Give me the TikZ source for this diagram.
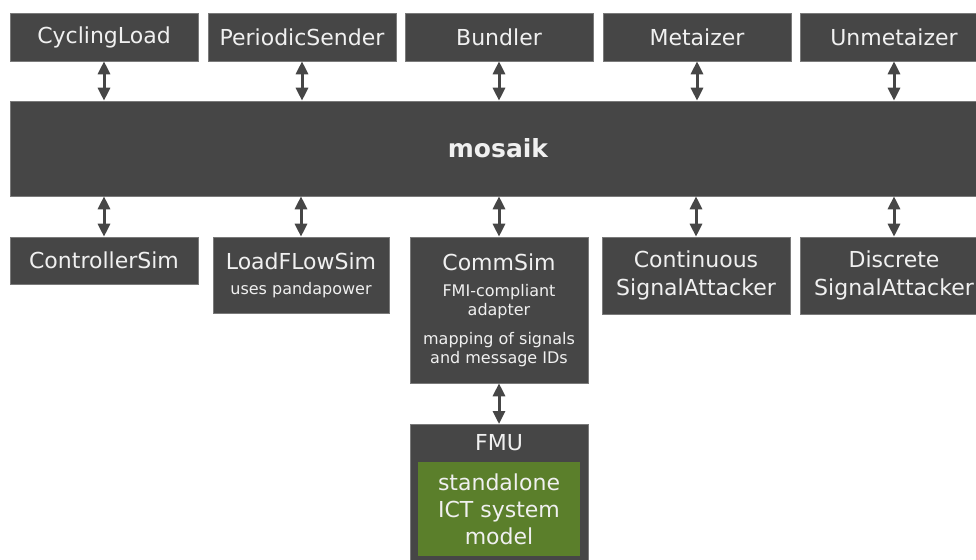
\documentclass[tikz,border=0pt]{standalone}
\usepackage{fontspec}
\setmainfont{DejaVu Sans}
\usetikzlibrary{arrows.meta}
\definecolor{boxgray}{HTML}{464646}
\definecolor{boxedge}{HTML}{7A7A7A}
\definecolor{boxtext}{HTML}{F0F0F0}
\definecolor{ictgreen}{HTML}{5B7F2B}
\tikzset{
  box/.style={fill=boxgray, draw=boxedge, line width=0.6pt, text=boxtext,
    font=\fontsize{22}{28}\selectfont, align=center, inner sep=0pt},
  biarrow/.style={draw=boxgray, line width=3pt,
    {Triangle[width=12pt,length=13pt]}-{Triangle[width=12pt,length=13pt]}}
}
\newcommand{\smalltxt}{\fontsize{16}{19}\selectfont}
\begin{document}
\begin{tikzpicture}[x=1pt,y=-1pt]
\clip (0,0) rectangle (976,559);
\fill[white] (0,0) rectangle (976,559);
% top row
\node[box, minimum width=188pt, minimum height=48pt] (cyc) at (104,37) {CyclingLoad};
\node[box, minimum width=188pt, minimum height=48pt] (per) at (302,37) {PeriodicSender};
\node[box, minimum width=188pt, minimum height=48pt] (bun) at (499,37) {Bundler};
\node[box, minimum width=188pt, minimum height=48pt] (met) at (697,37) {Metaizer};
\node[box, minimum width=188pt, minimum height=48pt] (unm) at (894,37) {Unmetaizer};
% mosaik bar
\node[box, minimum width=990pt, minimum height=95pt, font=\fontsize{25}{30}\selectfont\bfseries, anchor=west] (mos) at (10,148.5) {};
\node[text=boxtext, font=\fontsize{25}{30}\selectfont\bfseries, inner sep=0pt] (moslabel) at (498,148.5) {mosaik};
% bottom row
\node[box, minimum width=188pt, minimum height=47pt] (ctl) at (104,260.5) {ControllerSim};
\node[box, minimum width=176pt, minimum height=76pt] (lfs) at (301,275) {LoadFLowSim\\[-3pt]{\smalltxt uses pandapower}};
\node[box, minimum width=178pt, minimum height=146pt] (com) at (499,310) {CommSim\\[-2pt]{\smalltxt FMI-compliant}\\[-9pt]{\smalltxt adapter}\\[1pt]{\smalltxt mapping of signals}\\[-9pt]{\smalltxt and message IDs}};
\node[box, minimum width=188pt, minimum height=77pt] (con) at (696,275.5) {Continuous\\SignalAttacker};
\node[box, minimum width=188pt, minimum height=77pt] (dis) at (894,275.5) {Discrete\\SignalAttacker};
% FMU
\node[box, minimum width=178pt, minimum height=146pt, anchor=north] (fmu) at (499,424) {};
\node[text=boxtext, font=\fontsize{22}{28}\selectfont, inner sep=0pt] (fmulabel) at (499,443) {FMU};
\node[fill=ictgreen, text=boxtext, font=\fontsize{22}{27}\selectfont, align=center, inner sep=0pt,
  minimum width=162pt, minimum height=94pt] (ict) at (499,509) {standalone\\ICT system\\model};
% arrows
\foreach \n in {cyc,per,bun,met,unm}{
  \draw[biarrow] (\n.south) -- (\n.south |- mos.north);
}
\foreach \n in {ctl,lfs,com,con,dis}{
  \draw[biarrow] (\n.north) -- (\n.north |- mos.south);
}
\draw[biarrow] (com.south) -- (fmu.north);
\end{tikzpicture}
\end{document}
